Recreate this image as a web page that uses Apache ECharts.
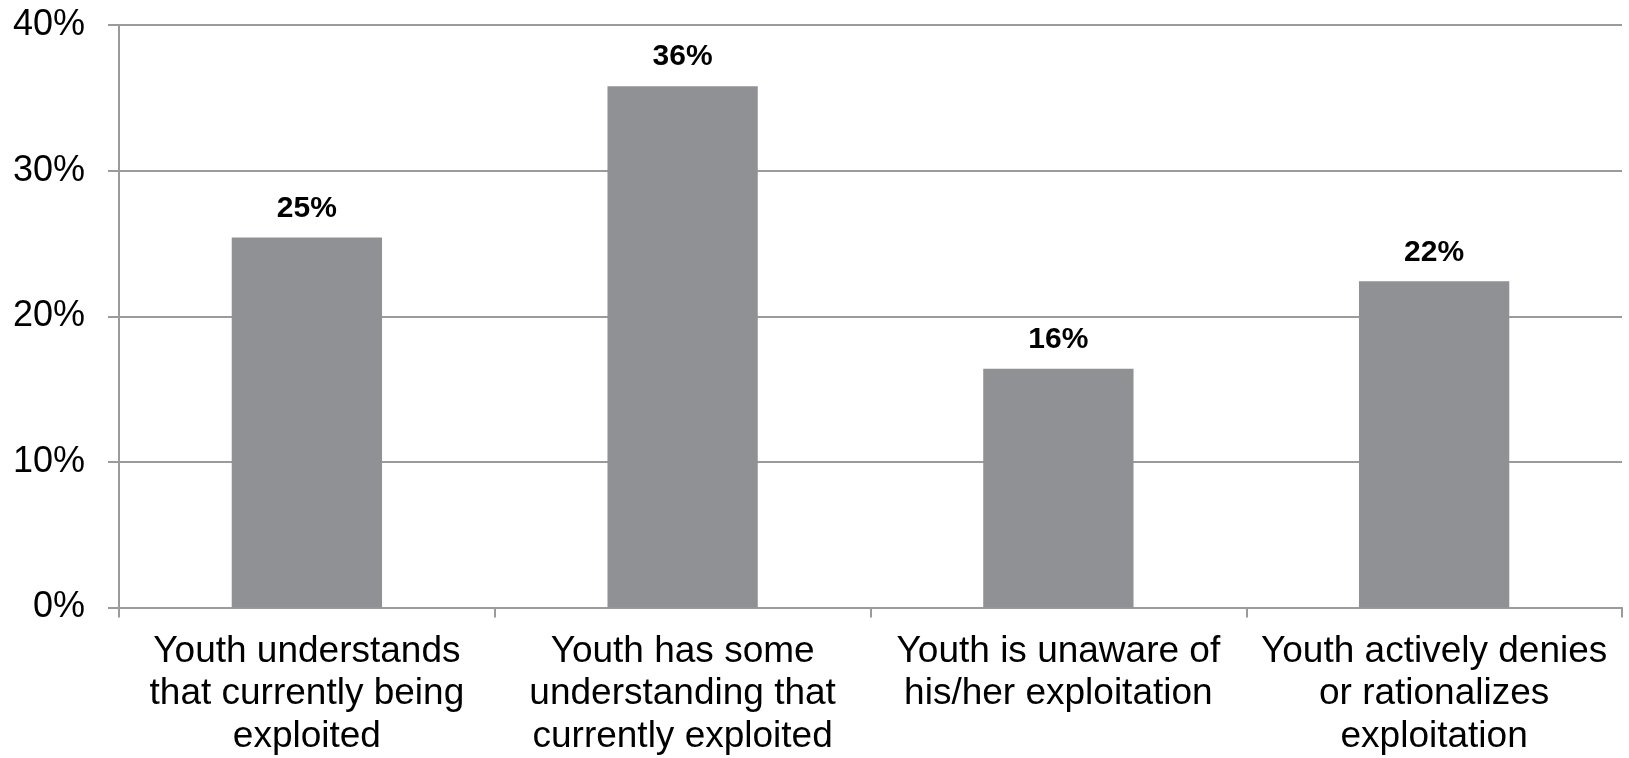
<!DOCTYPE html>
<html>
<head>
<meta charset="utf-8">
<script src="https://cdn.jsdelivr.net/npm/echarts@6/dist/echarts.min.js"></script>
<style>
  html, body {margin: 0; padding: 0; background: #fff;}
  #chart {width: 1629px; height: 758px;}
</style>
</head>
<body>
<div id="chart"></div>
<script>
const categories = [
  'Youth understands\nthat currently being\nexploited',
  'Youth has some\nunderstanding that\ncurrently exploited',
  'Youth is unaware of\nhis/her exploitation',
  'Youth actively denies\nor rationalizes\nexploitation'
];
const shares = [25.4, 35.8, 16.4, 22.4];
const yTicks = [0, 10, 20, 30, 40];

const axisGray = '#9b9b9b';
const font = '"Liberation Sans", Arial, sans-serif';

const myChart = echarts.init(document.getElementById('chart'));
myChart.setOption({
  animation: false,
  grid: {left: 119, right: 7, top: 25, bottom: 149},
  xAxis: {
    type: 'category',
    data: categories,
    axisLine: {lineStyle: {color: axisGray, width: 2}},
    axisTick: {show: true, length: 10, lineStyle: {color: axisGray, width: 2}},
    axisLabel: {
      color: '#000',
      fontFamily: font,
      fontSize: 37,
      lineHeight: 42.5,
      margin: 23,
      interval: 0
    }
  },
  yAxis: {
    type: 'value',
    min: yTicks[0],
    max: yTicks[yTicks.length - 1],
    interval: 10,
    axisLine: {show: true, lineStyle: {color: axisGray, width: 2}},
    axisTick: {show: true, length: 11, lineStyle: {color: axisGray, width: 2}},
    splitLine: {lineStyle: {color: axisGray, width: 2}},
    axisLabel: {
      color: '#000',
      fontFamily: font,
      fontSize: 36,
      margin: 34,
      formatter: v => v + '%'
    }
  },
  series: [{
    type: 'bar',
    data: shares,
    barWidth: '40%',
    itemStyle: {color: '#8f9195'},
    label: {
      show: true,
      position: 'top',
      distance: 14,
      color: '#000',
      fontFamily: font,
      fontWeight: 'bold',
      fontSize: 30,
      formatter: p => Math.round(p.value) + '%'
    }
  }]
});
</script>
</body>
</html>
